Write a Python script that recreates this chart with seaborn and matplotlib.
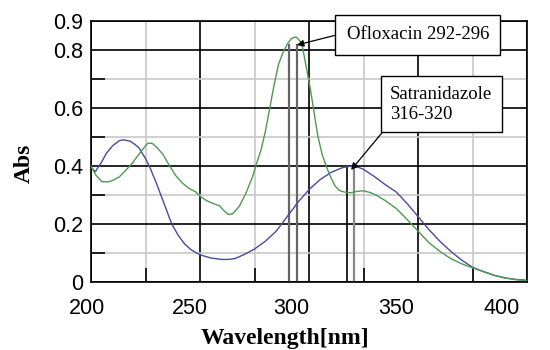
import numpy as np
import pandas as pd
import seaborn as sns
import matplotlib.pyplot as plt
import matplotlib.transforms as mtransforms

# Satranidazole spectrum (blue)
wl_sat = [200, 202, 205, 207, 210, 213, 215, 218, 220, 222, 225, 227, 230, 233, 235, 237,
          240, 243, 246, 250, 255, 260, 263, 266, 270, 275, 280, 285, 290, 295, 300, 305,
          310, 315, 318, 320, 323, 325, 330, 335, 340, 345, 350, 355, 360, 365, 370, 375,
          380, 385, 390, 395, 400]
abs_sat = [0.395, 0.38, 0.415, 0.443, 0.47, 0.487, 0.49, 0.485, 0.475, 0.462, 0.425, 0.395,
           0.34, 0.28, 0.24, 0.20, 0.16, 0.13, 0.11, 0.093, 0.082, 0.077, 0.077, 0.08, 0.093,
           0.113, 0.14, 0.175, 0.225, 0.275, 0.318, 0.352, 0.377, 0.393, 0.398, 0.398, 0.394,
           0.388, 0.363, 0.335, 0.31, 0.27, 0.225, 0.18, 0.14, 0.105, 0.075, 0.05, 0.035,
           0.022, 0.013, 0.008, 0.005]

# Ofloxacin spectrum (green)
wl_ofl = [200, 202, 205, 208, 210, 213, 216, 219, 221, 224, 226, 228, 230, 233, 236, 239,
          242, 245, 248, 250, 253, 256, 259, 261, 263, 265, 268, 271, 274, 276, 278, 280,
          282, 284, 286, 288, 290, 292, 294, 296, 297, 299, 300.5, 302, 304, 306, 308, 310,
          312, 314, 316, 319, 322, 325, 328, 331, 335, 340, 345, 350, 355, 360, 365, 370,
          375, 380, 385, 390, 395, 400]
abs_ofl = [0.40, 0.37, 0.345, 0.345, 0.35, 0.362, 0.385, 0.41, 0.43, 0.46, 0.478, 0.478,
           0.465, 0.44, 0.40, 0.365, 0.34, 0.322, 0.31, 0.295, 0.28, 0.27, 0.262, 0.245,
           0.232, 0.235, 0.26, 0.305, 0.36, 0.41, 0.455, 0.52, 0.6, 0.68, 0.75, 0.79, 0.82,
           0.84, 0.845, 0.83, 0.81, 0.73, 0.67, 0.6, 0.505, 0.44, 0.397, 0.36, 0.33, 0.315,
           0.31, 0.307, 0.312, 0.314, 0.308, 0.298, 0.28, 0.253, 0.215, 0.175, 0.135, 0.105,
           0.08, 0.062, 0.048, 0.035, 0.022, 0.013, 0.007, 0.004]

# marker lines for the selected wavelength ranges
ofl_lines = [291, 294.4]
sat_lines = [317.3, 320.8]

x_major = [200, 250, 300, 350, 400]
x_minor = [225, 275, 325, 375]
y_major = [0, 0.2, 0.4, 0.6, 0.8, 0.9]
y_minor = [0.1, 0.3, 0.5, 0.7]
y_labels = ['0', '0.2', '0.4', '0.6', '0.8', '0.9']

sns.set_style('white')
plt.rcParams['font.family'] = ['Liberation Sans', 'DejaVu Sans']
plt.rcParams['text.color'] = 'black'
plt.rcParams['axes.labelcolor'] = 'black'

fig = plt.figure(figsize=(5.5, 3.5), dpi=100)
ax = fig.add_axes([0.1655, 0.195, 0.7927, 0.745])

ax.vlines(ofl_lines, 0, 0.82, colors='#666666', lw=1.6, zorder=2)
ax.vlines(sat_lines[0], 0, 0.40, colors='black', lw=1.2, zorder=2)
ax.vlines(sat_lines[1], 0, 0.40, colors='#888888', lw=1.6, zorder=2)

df_sat = pd.DataFrame({'wl': wl_sat, 'abs': abs_sat})
df_ofl = pd.DataFrame({'wl': wl_ofl, 'abs': abs_ofl})
sns.lineplot(data=df_sat, x='wl', y='abs', color='#4a4a9e', lw=1.0, ax=ax,
             estimator=None, sort=False, zorder=3)
sns.lineplot(data=df_ofl, x='wl', y='abs', color='#4e9a52', lw=1.0, ax=ax,
             estimator=None, sort=False, zorder=3)

ax.set_xlim(200, 400)
ax.set_ylim(0, 0.9)
ax.set_xticks(x_major)
ax.set_xticks(x_minor, minor=True)
ax.set_yticks(y_major)
ax.set_yticklabels(y_labels)
ax.set_yticks(y_minor, minor=True)

ax.set_axisbelow(True)
ax.grid(which='major', color='black', lw=1.2)
ax.grid(which='minor', color='#c8c8c8', lw=1.2)
ax.tick_params(which='major', length=0, labelsize=15.5, colors='black')
ax.tick_params(axis='x', which='major', pad=12)
ax.tick_params(axis='y', which='major', pad=5.5)
ax.tick_params(which='minor', direction='in', length=10, width=1.2, color='black',
               left=True, bottom=True)
for s in ax.spines.values():
    s.set_color('black')
    s.set_linewidth(1.2)

# the original tick labels drift left a little
shifts = [-4, -10, -18, -22, -25]
for lab, dx in zip(ax.get_xticklabels(), shifts):
    lab.set_transform(lab.get_transform() +
                      mtransforms.ScaledTranslation(dx / 100, 0, fig.dpi_scale_trans))

ax.set_xlabel('Wavelength[nm]', family='Liberation Serif', fontweight='bold', fontsize=17)
ax.xaxis.set_label_coords(0.445, -0.178)
ax.set_ylabel('Abs', family='Liberation Serif', fontweight='bold', fontsize=17)
ax.yaxis.set_label_coords(-0.128, 0.455)

ax.annotate('Ofloxacin 292-296', xy=(294.4, 0.817), xytext=(317.3, 0.852),
            ha='left', va='center', fontsize=13.5, family='Liberation Serif',
            bbox=dict(boxstyle='square,pad=0.6', fc='white', ec='black', lw=1),
            arrowprops=dict(arrowstyle='-|>', color='black', lw=0.9, relpos=(0, 0.65),
                            shrinkA=0, shrinkB=0, mutation_scale=10),
            annotation_clip=False, zorder=5)
ax.annotate('Satranidazole\n316-320', xy=(319.3, 0.386), xytext=(337.2, 0.612),
            ha='left', va='center', fontsize=13.5, family='Liberation Serif',
            linespacing=1.25,
            bbox=dict(boxstyle='square,pad=0.5', fc='white', ec='black', lw=1),
            arrowprops=dict(arrowstyle='-|>', color='black', lw=0.9, relpos=(0, 0),
                            shrinkA=0, shrinkB=0, mutation_scale=10),
            annotation_clip=False, zorder=5)

fig.savefig('out.png', dpi=100)
